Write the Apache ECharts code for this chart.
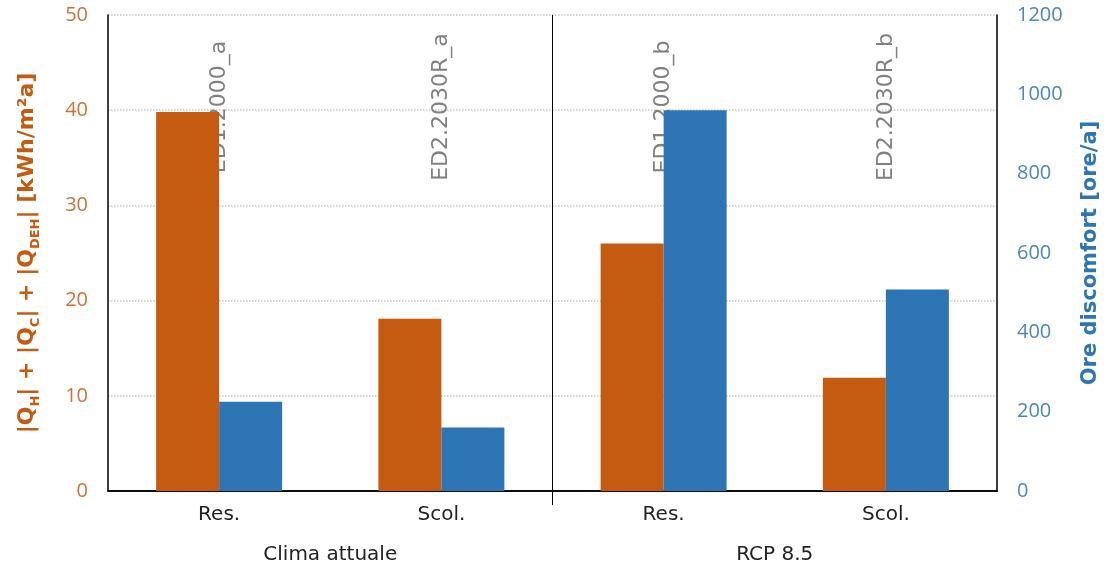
<!DOCTYPE html>
<html style="height: 100%">
<head>
    <meta charset="utf-8">
    <script src="https://cdn.jsdelivr.net/npm/echarts@6/dist/echarts.min.js"></script>
</head>
<body style="height: 100%; margin: 0; background: #fff">
<div id="container" style="width: 1110px; height: 565px"></div>
<script type="text/javascript">
// data
var categories = ['Res.', 'Scol.', 'Res.', 'Scol.'];
var caseLabels = ['ED1.2000_a', 'ED2.2030R_a', 'ED1.2000_b', 'ED2.2030R_b'];
var groups = ['Clima attuale', 'RCP 8.5'];
var energy = [39.8, 18.1, 26.0, 11.9];      // kWh/m2a, left axis
var discomfort = [225, 160, 960, 508];      // ore/a, right axis

var orange = '#C55A11';
var blue = '#2E75B6';
var font = 'DejaVu Sans';
var tickFont = 'Open Sans';

var chart = echarts.init(document.getElementById('container'));

var option = {
    animation: false,
    textStyle: { fontFamily: font },
    grid: { left: 108, right: 113, top: 15, bottom: 74, outerBoundsMode: 'none' },
    xAxis: [
        {
            type: 'category',
            data: categories,
            position: 'bottom',
            axisLine: { lineStyle: { color: '#000', width: 1.5 } },
            axisTick: { show: false },
            axisLabel: { color: '#222', fontSize: 20, margin: 14, fontFamily: font }
        },
        {
            // rotated case labels along the top
            type: 'category',
            data: caseLabels,
            position: 'top',
            axisLine: { show: true, lineStyle: { color: '#000', width: 1.5 } },
            axisTick: { show: false },
            axisLabel: {
                inside: true, rotate: 90, margin: 92,
                align: 'center', verticalAlign: 'middle',
                color: '#808080', fontSize: 22, fontFamily: font
            }
        },
        {
            // group labels below
            type: 'category',
            data: groups,
            position: 'bottom',
            offset: 46,
            axisLine: { show: false },
            axisTick: { show: false },
            axisLabel: { color: '#222', fontSize: 20, fontFamily: font }
        },
        {
            // divider between the two climate scenarios
            type: 'value',
            min: 0, max: categories.length,
            position: 'top',
            axisLine: { show: false },
            axisLabel: { show: false },
            splitLine: { show: false },
            axisTick: {
                show: true, inside: true, length: 490,
                customValues: [categories.length / groups.length],
                lineStyle: { color: '#000', width: 1 }
            }
        }
    ],
    yAxis: [
        {
            type: 'value',
            min: 0, max: 50, interval: 10,
            position: 'left',
            name: '|Q{s|H}| + |Q{s|C}| + |Q{s|DEH}| [kWh/m²a]',
            nameLocation: 'middle',
            nameRotate: 90,
            nameGap: 66,
            nameTextStyle: {
                color: orange, fontSize: 22, fontWeight: 'bold', lineHeight: 30,
                rich: {
                    s: { fontSize: 13, fontWeight: 'bold', color: orange, verticalAlign: 'bottom', lineHeight: 30 }
                }
            },
            axisLine: { show: true, lineStyle: { color: '#000', width: 1.5 } },
            axisTick: { show: false },
            splitLine: { show: true, lineStyle: { color: '#c8c8c8', type: 'dotted', width: 1.5 } },
            axisLabel: { color: '#C9733A', fontSize: 20, margin: 20, fontFamily: tickFont }
        },
        {
            type: 'value',
            min: 0, max: 1200, interval: 200,
            position: 'right',
            name: 'Ore discomfort [ore/a]',
            nameLocation: 'middle',
            nameRotate: 90,
            nameGap: 83,
            nameTextStyle: { color: blue, fontSize: 21, fontWeight: 'bold' },
            axisLine: { show: true, lineStyle: { color: '#000', width: 1.5 } },
            axisTick: { show: false },
            splitLine: { show: false },
            axisLabel: {
                color: '#4A86C0', fontSize: 20, margin: 20, fontFamily: tickFont,
                formatter: function (v) { return String(v); }
            }
        }
    ],
    series: [
        {
            name: 'energy',
            type: 'bar',
            xAxisIndex: 0,
            yAxisIndex: 0,
            data: energy,
            barWidth: 63,
            barGap: '0%',
            itemStyle: { color: orange }
        },
        {
            name: 'discomfort',
            type: 'bar',
            xAxisIndex: 0,
            yAxisIndex: 1,
            data: discomfort,
            barWidth: 63,
            barGap: '0%',
            itemStyle: { color: blue }
        }
    ]
};

chart.setOption(option);
</script>
</body>
</html>
